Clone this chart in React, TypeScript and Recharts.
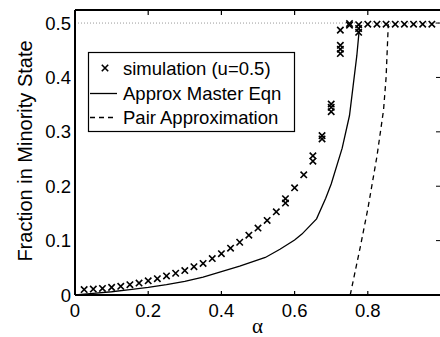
import React from 'react';
import { ComposedChart, Line, Scatter, XAxis, YAxis, ReferenceLine } from 'recharts';

// simulation runs (several runs per alpha overlap near the transition)
const simAlpha = [
  0.025, 0.05, 0.075, 0.1, 0.125, 0.15, 0.175, 0.2, 0.225, 0.25,
  0.275, 0.3, 0.325, 0.35, 0.375, 0.4, 0.425, 0.45, 0.475, 0.5,
  0.525, 0.55, 0.575, 0.575, 0.6, 0.625, 0.65, 0.65, 0.675, 0.675,
  0.7, 0.7, 0.7, 0.725, 0.725, 0.725, 0.725, 0.75, 0.75, 0.775,
  0.775, 0.775, 0.8, 0.825, 0.85, 0.875, 0.9, 0.925, 0.95, 0.975,
];
const simFraction = [
  0.010, 0.011, 0.012, 0.014, 0.016, 0.019, 0.022, 0.026, 0.030, 0.035,
  0.040, 0.045, 0.052, 0.058, 0.067, 0.076, 0.086, 0.097, 0.110, 0.123,
  0.137, 0.153, 0.169, 0.177, 0.197, 0.221, 0.246, 0.256, 0.287, 0.293,
  0.337, 0.345, 0.351, 0.444, 0.452, 0.459, 0.487, 0.496, 0.499, 0.483,
  0.490, 0.497, 0.498, 0.498, 0.498, 0.498, 0.498, 0.498, 0.498, 0.498,
];

// approximate master equation
const masterAlpha = [
  0, 0.05, 0.1, 0.15, 0.2, 0.25, 0.3, 0.35, 0.4, 0.45, 0.52,
  0.56, 0.6, 0.62, 0.66, 0.685, 0.7, 0.73, 0.75, 0.76, 0.77, 0.778,
];
const masterFraction = [
  0, 0.003, 0.006, 0.010, 0.014, 0.019, 0.025, 0.033, 0.043, 0.053, 0.069,
  0.084, 0.101, 0.112, 0.140, 0.178, 0.204, 0.27, 0.33, 0.385, 0.44, 0.498,
];

// pair approximation
const pairAlpha = [0.752, 0.78, 0.8, 0.825, 0.843, 0.85, 0.856];
const pairFraction = [0, 0.09, 0.158, 0.255, 0.34, 0.4, 0.498];

const xTicks = [0, 0.2, 0.4, 0.6, 0.8];
const yTicks = [0, 0.1, 0.2, 0.3, 0.4, 0.5];
const yMax = 0.524;
const seriesNames = ['simulation (u=0.5)', 'Approx Master Eqn', 'Pair Approximation'];

const simData = simAlpha.map((a, i) => ({ x: a, y: simFraction[i] }));
const masterData = masterAlpha.map((a, i) => ({ x: a, y: masterFraction[i] }));
const pairData = pairAlpha.map((a, i) => ({ x: a, y: pairFraction[i] }));

const font = '"Liberation Sans", Arial, Helvetica, sans-serif';
const fontSize = 18.5;
const plotTop = 10;
const plotRight = 440;

const Cross = (props: any) => {
  const { cx, cy } = props;
  if (cx == null || cy == null) return null;
  const s = 3.2;
  return (
    <path
      d={`M${cx - s},${cy - s}L${cx + s},${cy + s}M${cx - s},${cy + s}L${cx + s},${cy - s}`}
      stroke="#000"
      strokeWidth={1.6}
      fill="none"
    />
  );
};

// inward tick at the bottom and the mirrored one on the top frame, plus the label
const BottomTick = (props: any) => {
  const { x, y, payload } = props;
  return (
    <g>
      <line x1={x} x2={x} y1={y} y2={y - 4} stroke="#000" strokeWidth={1.2} />
      <line x1={x} x2={x} y1={plotTop} y2={plotTop + 5} stroke="#000" strokeWidth={1.2} />
      <text x={x} y={y + 22} textAnchor="middle" fontFamily={font} fontSize={fontSize} fill="#000">
        {String(payload.value)}
      </text>
    </g>
  );
};

// label on the left, inward tick on the right frame
const LeftTick = (props: any) => {
  const { x, y, payload } = props;
  return (
    <g>
      <line x1={plotRight - 4} x2={plotRight} y1={y} y2={y} stroke="#000" strokeWidth={1} />
      <text x={x - 4} y={y} dy="0.36em" textAnchor="end" fontFamily={font} fontSize={fontSize} fill="#000">
        {String(payload.value)}
      </text>
    </g>
  );
};

const AlphaLabel = () => (
  <text x={257.5} y={333} textAnchor="middle" fontFamily='"Liberation Serif", "DejaVu Serif", serif' fontSize={21} fill="#000">
    α
  </text>
);

const YLabel = () => (
  <text
    x={25}
    y={151}
    transform="rotate(-90 25 151)"
    textAnchor="middle"
    dy="0.36em"
    fontFamily={font}
    fontSize={20}
    fill="#000"
  >
    Fraction in Minority State
  </text>
);

function LegendBox() {
  const rows = [16, 41.5, 65.5];
  return (
    <svg
      width={208}
      height={81}
      style={{ position: 'absolute', left: 88, top: 52, overflow: 'visible' }}
    >
      <rect x={0.5} y={0.5} width={206} height={79} fill="#fff" stroke="#000" strokeWidth={1.2} />
      <Cross cx={17} cy={rows[0]} />
      <line x1={2} x2={29} y1={rows[1]} y2={rows[1]} stroke="#000" strokeWidth={1.3} />
      <line x1={2} x2={29} y1={rows[2]} y2={rows[2]} stroke="#000" strokeWidth={1.3} strokeDasharray="5 4" />
      {seriesNames.map((name, i) => (
        <text key={name} x={35} y={rows[i]} dy="0.36em" fontFamily={font} fontSize={fontSize} fill="#000">
          {name}
        </text>
      ))}
    </svg>
  );
}

export default function App() {
  return (
    <div style={{ position: 'absolute', left: 0, top: 0, width: 440, height: 337, background: '#fff' }}>
      <ComposedChart width={440} height={337} margin={{ top: plotTop, right: -1, bottom: 0, left: 0 }}>
        <XAxis
          dataKey="x"
          type="number"
          domain={[0, 1]}
          ticks={xTicks}
          allowDataOverflow
          height={42}
          tickSize={0}
          tickMargin={0}
          tick={<BottomTick />}
          axisLine={{ stroke: '#000', strokeWidth: 2 }}
          tickLine={false}
          interval={0}
          label={AlphaLabel}
        />
        <YAxis
          type="number"
          domain={[0, yMax]}
          ticks={yTicks}
          allowDataOverflow
          width={75}
          tickSize={0}
          tickMargin={0}
          tick={<LeftTick />}
          axisLine={{ stroke: '#000', strokeWidth: 2 }}
          tickLine={false}
          interval={0}
          label={YLabel}
        />
        {/* top frame of the box */}
        <ReferenceLine y={yMax} stroke="#000" strokeWidth={2} ifOverflow="visible" />
        <ReferenceLine y={0.5} stroke="#9a9a9a" strokeDasharray="1 2" strokeWidth={1} />
        <Line
          data={masterData}
          dataKey="y"
          type="linear"
          stroke="#000"
          strokeWidth={1.3}
          dot={false}
          isAnimationActive={false}
        />
        <Line
          data={pairData}
          dataKey="y"
          type="linear"
          stroke="#000"
          strokeWidth={1.3}
          strokeDasharray="5 4"
          dot={false}
          isAnimationActive={false}
        />
        <Scatter data={simData} dataKey="y" shape={<Cross />} isAnimationActive={false} />
      </ComposedChart>
      <LegendBox />
    </div>
  );
}
